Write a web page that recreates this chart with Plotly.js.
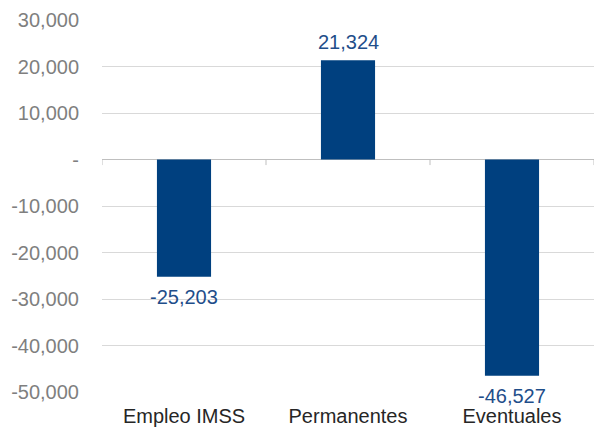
<!DOCTYPE html>
<html><head><meta charset="utf-8">
<script src="https://cdn.plot.ly/plotly-3.0.1.min.js"></script>
<style>html,body{margin:0;padding:0;background:#fff}#c{width:594px;height:427px}</style>
</head><body><div id="c"></div>
<script>
const categories = ["Empleo IMSS", "Permanentes", "Eventuales"];
const values = [-25203, 21324, -46527];
const tickVals = [-50000, -40000, -30000, -20000, -10000, 0, 10000, 20000, 30000];
const tickText = ["-50,000", "-40,000", "-30,000", "-20,000", "-10,000", "-", "10,000", "20,000", "30,000"];
const boundaries = [-0.5, 0.5, 1.5, 2.5];

const fmt = v => (v < 0 ? "-" : "") + Math.abs(v).toLocaleString("en-US");

const trace = {
  type: "bar",
  x: categories,
  y: values,
  marker: {color: "#00407f"},
  hoverinfo: "none"
};

const annotations = categories.map((c, i) => ({
  x: c, y: values[i], xref: "x", yref: "y",
  text: fmt(values[i]), showarrow: false,
  yanchor: values[i] < 0 ? "top" : "bottom",
  yshift: values[i] < 0 ? -7 : 5,
  font: {family: "Liberation Sans, Arial, sans-serif", size: 20, color: "#1f4e8a"}
}));

const shapes = boundaries.map(b => ({
  type: "line", xref: "x", yref: "y", x0: b, x1: b, y0: 0, y1: -1200,
  line: {color: "#bfbfbf", width: 1}
}));

const layout = {
  width: 594, height: 427,
  margin: {l: 102, r: 0, t: 20, b: 35},
  paper_bgcolor: "#fff", plot_bgcolor: "#fff",
  bargap: 0.67,
  showlegend: false,
  font: {family: "Liberation Sans, Arial, sans-serif"},
  xaxis: {
    type: "category",
    range: [-0.5, 2.5],
    showgrid: false, zeroline: false, showline: false,
    ticks: "", ticklabelstandoff: 10,
    tickfont: {size: 20, color: "#262626"}
  },
  yaxis: {
    range: [-50000, 30000],
    tickvals: tickVals, ticktext: tickText,
    showgrid: true, gridcolor: "#d9d9d9", gridwidth: 1,
    zeroline: true, zerolinecolor: "#bfbfbf", zerolinewidth: 1,
    showline: false, ticks: "",
    ticklabelstandoff: 22,
    tickfont: {size: 20, color: "#7f7f7f"}
  },
  shapes: shapes,
  annotations: annotations
};

Plotly.newPlot("c", [trace], layout, {staticPlot: true, displayModeBar: false});
</script></body></html>
